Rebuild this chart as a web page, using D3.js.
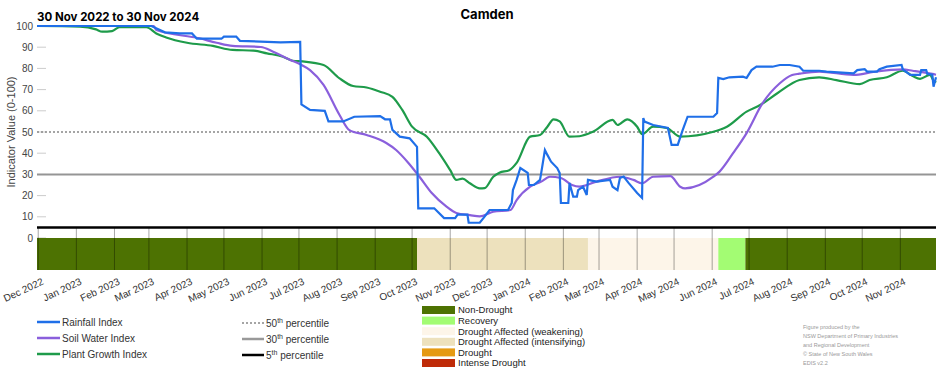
<!DOCTYPE html>
<html>
<meta charset="utf-8">
<head>
    <script src="https://d3js.org/d3.v7.min.js"></script>
    <style>
        body { margin: 0; background: #fff; }
        text { font-family: "Liberation Sans", Arial, sans-serif; }
    </style>
</head>
<body>
    <script>
        var width = 952,
            height = 370;

        // ---- data ----
        var rainDates = ["2022-11-30","2023-03-03","2023-03-14","2023-03-26","2023-04-05","2023-04-09","2023-04-29","2023-05-01","2023-05-11","2023-05-14","2023-06-16","2023-07-02","2023-07-03","2023-07-10","2023-07-22","2023-07-25","2023-08-06","2023-08-15","2023-09-05","2023-09-09","2023-09-13","2023-09-15","2023-09-21","2023-09-29","2023-10-05","2023-10-06","2023-10-19","2023-10-27","2023-11-05","2023-11-07","2023-11-15","2023-11-16","2023-11-25","2023-11-28","2023-12-03","2023-12-18","2023-12-21","2023-12-22","2023-12-25","2023-12-28","2024-01-03","2024-01-04","2024-01-08","2024-01-13","2024-01-14","2024-01-17","2024-01-19","2024-01-22","2024-01-27","2024-01-29","2024-01-30","2024-02-05","2024-02-06","2024-02-09","2024-02-12","2024-02-13","2024-02-17","2024-02-20","2024-02-21","2024-02-28","2024-03-10","2024-03-12","2024-03-16","2024-03-18","2024-03-21","2024-03-25","2024-04-01","2024-04-05","2024-04-06","2024-04-07","2024-04-14","2024-04-26","2024-04-29","2024-05-04","2024-05-08","2024-05-12","2024-06-02","2024-06-05","2024-06-06","2024-06-10","2024-06-15","2024-06-26","2024-06-29","2024-07-03","2024-07-07","2024-07-20","2024-07-26","2024-08-03","2024-08-11","2024-08-14","2024-08-27","2024-09-02","2024-09-24","2024-09-27","2024-10-03","2024-10-05","2024-10-13","2024-10-15","2024-10-21","2024-11-02","2024-11-03","2024-11-09","2024-11-17","2024-11-18","2024-11-22","2024-11-23","2024-11-27","2024-11-28","2024-11-30"];
        var rainValues = [100,100,97,96.5,96.5,94,94,95,95,93,92.3,92.5,63,60.4,60,55,55,57.2,57.5,56,56,51,47.8,47,43,14,14,9.4,9.4,11,11,7.2,7.2,9.4,13.2,13.2,16.5,22.6,27.4,33,30.7,25,25,27.4,30.7,41.5,39.2,36,33,30.7,16.5,16.5,25.9,19.5,19.5,22.6,24.2,20.3,27.4,26.6,27.4,24.2,22.6,28.3,29,26,21.2,18.9,56.6,54.9,53.3,51.9,43.9,43.9,50.9,57.2,57.2,59,75.5,75,75.8,76.1,75.5,79.2,80.8,80.8,81.6,81.6,80.8,78.9,78.9,78.5,77.7,79.2,79.6,78.5,78.5,79.6,80.8,81.6,79.6,76.9,76.9,79.2,79.2,77.4,77,71.4,75.8];

        var soilDates = ["2022-11-30","2023-03-05","2023-03-07","2023-04-11","2023-04-25","2023-05-08","2023-05-31","2023-06-10","2023-06-24","2023-07-02","2023-07-10","2023-07-21","2023-08-03","2023-08-11","2023-08-25","2023-09-10","2023-09-18","2023-09-28","2023-10-07","2023-10-17","2023-10-29","2023-11-06","2023-11-17","2023-11-25","2023-12-06","2023-12-20","2023-12-25","2024-01-05","2024-01-14","2024-01-21","2024-01-30","2024-02-08","2024-02-14","2024-02-28","2024-03-18","2024-03-29","2024-04-05","2024-04-14","2024-04-28","2024-05-06","2024-05-10","2024-06-02","2024-06-07","2024-06-18","2024-06-29","2024-07-12","2024-07-26","2024-08-05","2024-08-11","2024-08-27","2024-09-24","2024-10-10","2024-11-03","2024-11-11","2024-11-27","2024-11-30"];
        var soilValues = [100,100,98.1,94.2,92.1,90.6,90.1,87.9,84,82,79.2,72.2,58,50.9,48.6,44.8,41.5,35.4,28.9,21.2,14.8,11.8,10.8,10.2,12.4,13.2,17.9,24.2,26.6,28.9,28.3,25,24.2,26.6,28.9,27.4,25.8,28.9,29.2,24.2,23.4,28.9,31.3,40,49.5,63.6,73,76.9,77.5,78.5,76.9,78.3,79.5,78.9,77.4,77];

        var plantDates = ["2022-11-30","2023-01-04","2023-01-17","2023-01-22","2023-01-30","2023-02-05","2023-02-27","2023-03-07","2023-03-15","2023-04-01","2023-04-22","2023-05-08","2023-05-25","2023-06-05","2023-06-18","2023-06-26","2023-07-04","2023-07-21","2023-08-03","2023-08-14","2023-08-25","2023-09-05","2023-09-15","2023-09-23","2023-10-01","2023-10-13","2023-10-23","2023-11-01","2023-11-06","2023-11-11","2023-11-17","2023-11-25","2023-11-29","2023-12-06","2023-12-11","2023-12-19","2023-12-25","2024-01-05","2024-01-13","2024-01-19","2024-01-24","2024-01-29","2024-02-06","2024-02-14","2024-02-25","2024-03-12","2024-03-16","2024-03-24","2024-04-01","2024-04-05","2024-04-14","2024-04-25","2024-05-06","2024-06-02","2024-06-13","2024-06-29","2024-07-10","2024-07-24","2024-08-11","2024-08-27","2024-09-10","2024-09-29","2024-10-07","2024-10-21","2024-11-03","2024-11-11","2024-11-17","2024-11-25","2024-11-29","2024-11-30"];
        var plantValues = [100,99.7,98.4,97.3,97.6,99.4,99.4,96.5,94.6,92.1,90.6,88.7,88.4,87.1,85.5,83.6,83.3,81.6,75.3,71.7,71,69,66.6,60.4,52.5,47.8,40,32,27.4,28,25.8,23.4,23.5,28.9,30.8,32,35.4,47.8,48.6,52.5,56,55,47.8,48,50.1,55.7,53.3,56,52.5,49,52.5,51.9,47.8,50.1,52.5,59.6,62.7,68.3,74.5,75.8,74.5,72.6,74.5,75.8,78.9,76.4,75.1,76.9,73.5,74];

        var statusStarts = ["2022-11-30","2023-10-05","2024-02-21","2024-06-06","2024-06-28"];
        var statusEnds   = ["2023-10-05","2024-02-21","2024-06-06","2024-06-28","2024-11-30"];
        var statusCats   = ["Non-Drought","Drought Affected (intensifying)","Drought Affected (weakening)","Recovery","Non-Drought"];

        var statusNames  = ["Non-Drought","Recovery","Drought Affected (weakening)","Drought Affected (intensifying)","Drought","Intense Drought"];
        var statusColors = ["#4d7202","#a3fc73","#fdf5e9","#ede1bd","#e59a13","#bf2b08"];

        var seriesNames  = ["Rainfall Index","Soil Water Index","Plant Growth Index"];
        var seriesColors = ["#1f6fe8","#8a5fdc","#1e9b4a"];
        var percentiles  = [50, 30, 5];
        var yTicks = [0,10,20,30,40,50,60,70,80,90,100];
        var credits = ["Figure produced by the","NSW Department of Primary Industries","and Regional Development","\u00a9 State of New South Wales","EDIS v2.2"];

        var parse = d3.timeParse("%Y-%m-%d");

        var svg = d3.select("body").append("svg")
            .attr("width", width)
            .attr("height", height);

        var x = d3.scaleTime()
            .domain([parse("2022-11-30"), parse("2024-11-30")])
            .range([37, 936]);

        var y = d3.scaleLinear()
            .domain([0, 100])
            .range([238, 26]);

        var barTop = 238, barBottom = 270;

        // titles
        svg.append("text")
            .attr("x", 487).attr("y", 19)
            .attr("text-anchor", "middle")
            .style("font-size", "13px").style("font-weight", "bold")
            .style("font-family", "Inter, sans-serif")
            .text("Camden");

        svg.append("text")
            .attr("x", 37).attr("y", 21)
            .style("font-size", "11.5px").style("font-weight", "bold")
            .style("font-family", "Inter, sans-serif")
            .text("30 Nov 2022 to 30 Nov 2024");

        // y axis
        var yAxis = svg.append("g");
        yAxis.selectAll(".tk")
            .data(yTicks)
            .enter().append("line")
            .attr("x1", 37).attr("x2", 46)
            .attr("y1", function(d) { return y(d); })
            .attr("y2", function(d) { return y(d); })
            .attr("stroke", "#ccc");
        yAxis.selectAll("text")
            .data(yTicks)
            .enter().append("text")
            .attr("x", 33)
            .attr("y", function(d) { return y(d); })
            .attr("dy", "0.35em")
            .attr("text-anchor", "end")
            .style("font-size", "10px")
            .attr("fill", "#444")
            .text(function(d) { return d; });

        svg.append("text")
            .attr("transform", "translate(15," + 132 + ") rotate(-90)")
            .attr("text-anchor", "middle")
            .style("font-size", "11px")
            .attr("fill", "#444")
            .text("Indicator Value (0-100)");

        // percentile lines
        svg.append("line")
            .attr("x1", 37).attr("x2", 936)
            .attr("y1", y(percentiles[0])).attr("y2", y(percentiles[0]))
            .attr("stroke", "#888").attr("stroke-width", 1.6)
            .attr("stroke-dasharray", "2,2");
        svg.append("line")
            .attr("x1", 37).attr("x2", 936)
            .attr("y1", y(percentiles[1])).attr("y2", y(percentiles[1]))
            .attr("stroke", "#959595").attr("stroke-width", 2);

        // status bar
        svg.selectAll(".status")
            .data(statusCats)
            .enter().append("rect")
            .attr("x", function(d, i) { return x(parse(statusStarts[i])); })
            .attr("width", function(d, i) { return x(parse(statusEnds[i])) - x(parse(statusStarts[i])); })
            .attr("y", barTop)
            .attr("height", barBottom - barTop)
            .attr("fill", function(d) { return statusColors[statusNames.indexOf(d)]; });

        var months = d3.timeMonth.range(parse("2022-12-01"), parse("2024-12-01"));

        svg.selectAll(".grid")
            .data(months)
            .enter().append("line")
            .attr("x1", function(d) { return x(d); })
            .attr("x2", function(d) { return x(d); })
            .attr("y1", 228).attr("y2", barBottom)
            .attr("stroke", "#000").attr("stroke-opacity", 0.35);

        svg.selectAll(".mlab")
            .data(months)
            .enter().append("text")
            .attr("transform", function(d) { return "translate(" + (x(d) + 6) + ",284) rotate(-25)"; })
            .attr("text-anchor", "end")
            .style("font-size", "10px")
            .attr("fill", "#333")
            .text(d3.timeFormat("%b %Y"));

        // 5th percentile
        svg.append("line")
            .attr("x1", 37).attr("x2", 936)
            .attr("y1", y(percentiles[2])).attr("y2", y(percentiles[2]))
            .attr("stroke", "#000").attr("stroke-width", 2.5);

        // index lines
        var line = d3.line()
            .x(function(d) { return x(d[0]); })
            .y(function(d) { return y(d[1]); });

        function pairs(dates, values) {
            return dates.map(function(d, i) { return [parse(d), values[i]]; });
        }

        svg.append("path")
            .datum(pairs(plantDates, plantValues))
            .attr("d", line.curve(d3.curveMonotoneX))
            .attr("fill", "none").attr("stroke", seriesColors[2]).attr("stroke-width", 2.2);
        svg.append("path")
            .datum(pairs(soilDates, soilValues))
            .attr("d", line.curve(d3.curveMonotoneX))
            .attr("fill", "none").attr("stroke", seriesColors[1]).attr("stroke-width", 2.2);
        svg.append("path")
            .datum(pairs(rainDates, rainValues))
            .attr("d", line.curve(d3.curveLinear))
            .attr("fill", "none").attr("stroke", seriesColors[0]).attr("stroke-width", 2.2);

        // legend: series
        var lg = svg.append("g").style("font-family", "Inter, sans-serif");
        seriesNames.forEach(function(n, i) {
            var yy = 322 + i * 16;
            lg.append("line").attr("x1", 37).attr("x2", 60).attr("y1", yy).attr("y2", yy)
                .attr("stroke", seriesColors[i]).attr("stroke-width", 2.5);
            lg.append("text").attr("x", 62).attr("y", yy).attr("dy", "0.35em")
                .style("font-size", "10px").attr("fill", "#333").text(n);
        });

        var pStyles = [
            { c: "#888", w: 1.6, dash: "2,2", sup: "th" },
            { c: "#999", w: 2.5, dash: null, sup: "th" },
            { c: "#000", w: 2.5, dash: null, sup: "th" }
        ];
        percentiles.forEach(function(p, i) {
            var yy = 323 + i * 16;
            lg.append("line").attr("x1", 242).attr("x2", 264).attr("y1", yy).attr("y2", yy)
                .attr("stroke", pStyles[i].c).attr("stroke-width", pStyles[i].w)
                .attr("stroke-dasharray", pStyles[i].dash);
            var t = lg.append("text").attr("x", 266).attr("y", yy).attr("dy", "0.35em")
                .style("font-size", "10px").attr("fill", "#333");
            t.append("tspan").text(p);
            t.append("tspan").attr("dy", -4).style("font-size", "7px").text(pStyles[i].sup);
            t.append("tspan").attr("dy", 4).text(" percentile");
        });

        statusNames.forEach(function(n, i) {
            var yy = 310 + i * 10.6;
            lg.append("rect").attr("x", 422).attr("y", yy - 4).attr("width", 33).attr("height", 8)
                .attr("fill", statusColors[i]);
            lg.append("text").attr("x", 458).attr("y", yy).attr("dy", "0.35em")
                .style("font-size", "9.5px").style("font-family", "'Liberation Sans', Arial, sans-serif")
                .attr("fill", "#222").text(n);
        });

        credits.forEach(function(c, i) {
            lg.append("text").attr("x", 803).attr("y", 327 + i * 9).attr("dy", "0.35em")
                .style("font-size", "5.5px").attr("fill", "#999").text(c);
        });
    </script>
</body>
</html>
